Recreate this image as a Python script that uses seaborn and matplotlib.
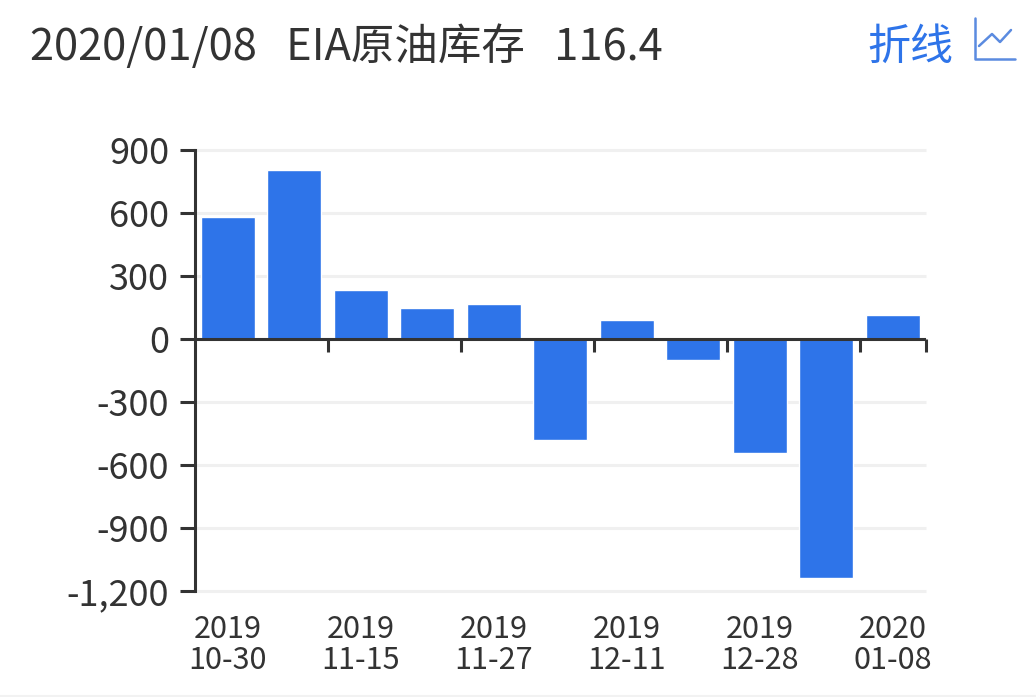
import matplotlib
matplotlib.use('Agg')
import pandas as pd
import seaborn as sns
import matplotlib.pyplot as plt
from matplotlib.lines import Line2D

dates = ['2019\n10-30', '2019\n11-06', '2019\n11-15', '2019\n11-20', '2019\n11-27',
         '2019\n12-04', '2019\n12-11', '2019\n12-18', '2019\n12-28', '2020\n01-03',
         '2020\n01-08']
values = [582, 806, 231, 150, 168, -480, 92, -102, -542, -1140, 116.4]
y_ticks = [900, 600, 300, 0, -300, -600, -900, -1200]
y_labels = ['900', '600', '300', '0', '-300', '-600', '-900', '-1,200']
title_text = '2020/01/08   EIA原油库存   116.4'

W, H = 1036, 697
DARK = '#333333'
BLUE = '#2e74e9'
ICON = '#5b8be0'


def main():
    sns.set_theme(style='white')
    plt.rcParams['font.family'] = ['Noto Sans CJK SC', 'DejaVu Sans']
    fig = plt.figure(figsize=(W / 100, H / 100), dpi=100)
    ax = fig.add_axes([194.5 / W, 1 - 591 / H, 731.5 / W, 441 / H])
    df = pd.DataFrame({'date': dates, 'value': values})
    sns.barplot(data=df, x='date', y='value', color=BLUE, saturation=1,
                width=0.81, ax=ax, zorder=3)
    ax.set_xlim(-0.5, 10.5)
    ax.set_ylim(-1200, 900)
    ax.set_xlabel('')
    ax.set_ylabel('')

    ax.set_yticks(y_ticks)
    ax.set_yticklabels(y_labels, fontsize=26, color=DARK)
    ax.tick_params(axis='y', left=True, length=10.8, width=2.2, color=DARK, pad=7.5)
    ax.grid(axis='y', color='#f0f0f0', linewidth=2.2, zorder=0, clip_on=False,
            solid_capstyle='butt')

    # labels sit on every other bar, ticks sit on the band edges
    ax.set_xticks(range(0, 11, 2))
    ax.set_xticklabels(dates[::2], fontsize=22, color=DARK, linespacing=1.0)
    ax.tick_params(axis='x', which='major', length=0, pad=16.5)

    for s in ['top', 'right', 'bottom']:
        ax.spines[s].set_visible(False)
    ax.spines['left'].set_linewidth(2.2)
    ax.spines['left'].set_color(DARK)
    ax.axhline(0, color=DARK, linewidth=2.2, zorder=4)
    for x in [1.5, 3.5, 5.5, 7.5, 9.5, 10.5]:
        ax.plot([x, x], [0, -60], color=DARK, linewidth=2.2, zorder=4, clip_on=False,
                solid_capstyle='butt')

    fig.text(30 / W, 1 - 48 / H, title_text, fontsize=31.3, color=DARK, va='center')
    fig.text(867 / W, 1 - 48 / H, '折线', fontsize=31, color=BLUE, va='center')

    # small line-chart icon next to the switch label
    fig.add_artist(Line2D([975 / W, 975 / W, 1015 / W],
                          [1 - 18 / H, 1 - 59 / H, 1 - 59 / H], color=ICON, linewidth=1.8))
    fig.add_artist(Line2D([979 / W, 992 / W, 1000 / W, 1011 / W],
                          [1 - 46 / H, 1 - 34 / H, 1 - 42 / H, 1 - 30 / H],
                          color=ICON, linewidth=1.8))
    fig.add_artist(Line2D([0, 1], [1 - 695.5 / H, 1 - 695.5 / H], color='#f2f2f2', linewidth=1.5))

    fig.savefig('out.png', dpi=100)


if __name__ == '__main__':
    main()
